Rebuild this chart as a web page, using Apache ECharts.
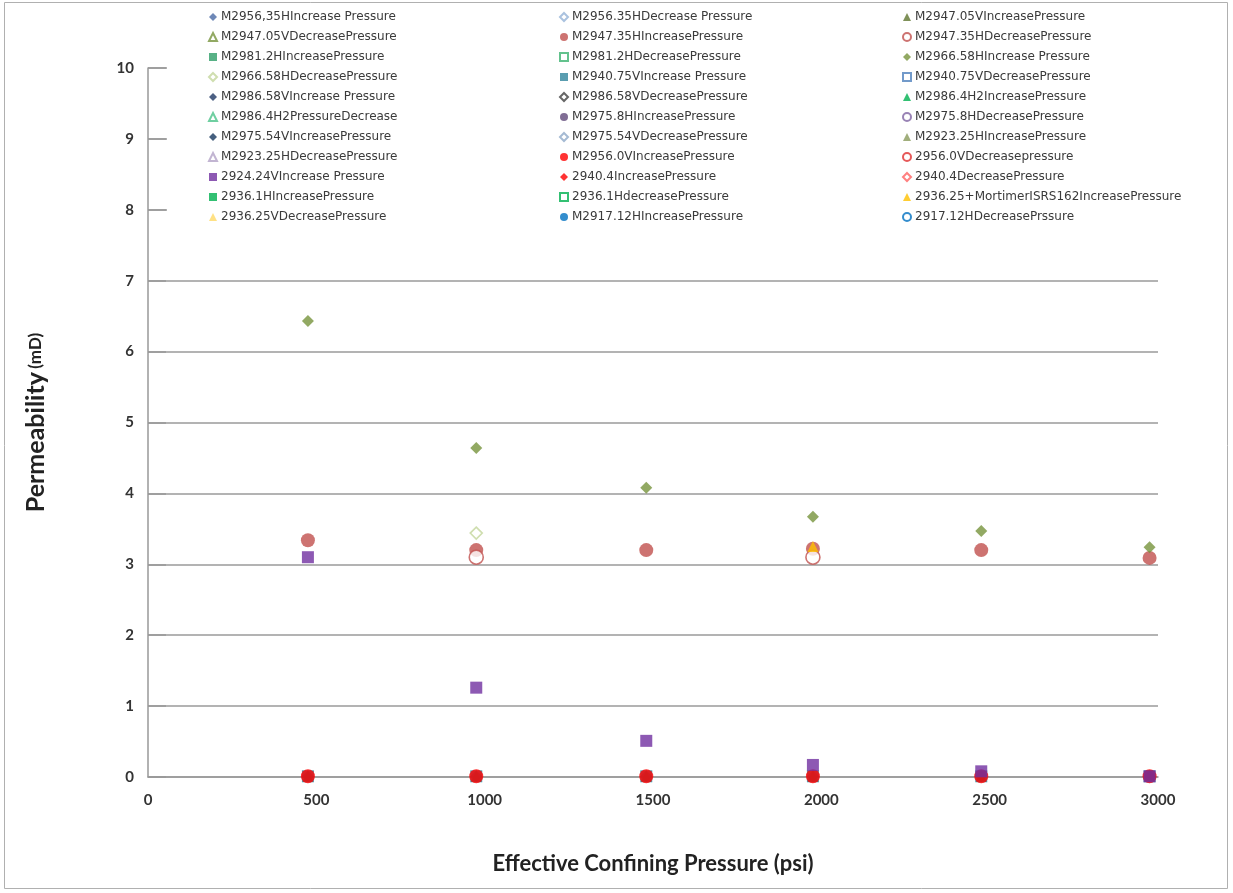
<!DOCTYPE html>
<html>
<head>
<meta charset="utf-8">
<script src="https://cdn.jsdelivr.net/npm/echarts@6/dist/echarts.min.js"></script>
<style>html,body{margin:0;padding:0;background:#fff}#c{width:1233px;height:893px}</style>
</head>
<body>
<div id="c"></div>
<script>
const pressures = [475, 975, 1480, 1975, 2475, 2975];

// Series names (legend order, row by row, 3 columns)
const seriesNames = [
  'M2956,35HIncrease Pressure', 'M2956.35HDecrease Pressure', 'M2947.05VIncreasePressure',
  'M2947.05VDecreasePressure', 'M2947.35HIncreasePressure', 'M2947.35HDecreasePressure',
  'M2981.2HIncreasePressure', 'M2981.2HDecreasePressure', 'M2966.58HIncrease Pressure',
  'M2966.58HDecreasePressure', 'M2940.75VIncrease Pressure', 'M2940.75VDecreasePressure',
  'M2986.58VIncrease Pressure', 'M2986.58VDecreasePressure', 'M2986.4H2IncreasePressure',
  'M2986.4H2PressureDecrease', 'M2975.8HIncreasePressure', 'M2975.8HDecreasePressure',
  'M2975.54VIncreasePressure', 'M2975.54VDecreasePressure', 'M2923.25HIncreasePressure',
  'M2923.25HDecreasePressure', 'M2956.0VIncreasePressure', '2956.0VDecreasepressure',
  '2924.24VIncrease Pressure', '2940.4IncreasePressure', '2940.4DecreasePressure',
  '2936.1HIncreasePressure', '2936.1HdecreasePressure', '2936.25+MortimerISRS162IncreasePressure',
  '2936.25VDecreasePressure', 'M2917.12HIncreasePressure', '2917.12HDecreasePrssure'
];

// Permeability values (mD) per series at each pressure; null = no visible point
const v_M2956_35H_inc   = [0.01, 0.01, 0.01, 0.01, 0.01, 0.01];
const v_M2947_05V_inc   = [0.01, 0.01, 0.01, 0.01, 0.01, 0.01];
const v_M2947_35H_inc   = [3.34, 3.20, 3.20, 3.22, 3.20, 3.09];
const v_M2947_35H_dec   = [null, 3.10, null, 3.10, null, null];
const v_M2966_58H_inc   = [6.43, 4.64, 4.08, 3.67, 3.47, 3.24];
const v_M2966_58H_dec   = [null, 3.44, null, null, null, null];
const v_M2940_75V_inc   = [0.01, 0.01, 0.01, 0.01, 0.01, 0.01];
const v_M2956_0V_inc    = [0.01, 0.01, 0.01, 0.01, 0.01, 0.01];
const v_2924_24V_inc    = [3.10, 1.26, 0.51, 0.17, 0.08, 0.01];
const v_2936_25M_inc    = [null, null, null, 3.25, null, null];

const seriesValues = {
  'M2956,35HIncrease Pressure': v_M2956_35H_inc,
  'M2947.05VIncreasePressure': v_M2947_05V_inc,
  'M2947.35HIncreasePressure': v_M2947_35H_inc,
  'M2947.35HDecreasePressure': v_M2947_35H_dec,
  'M2966.58HIncrease Pressure': v_M2966_58H_inc,
  'M2966.58HDecreasePressure': v_M2966_58H_dec,
  'M2940.75VIncrease Pressure': v_M2940_75V_inc,
  'M2956.0VIncreasePressure': v_M2956_0V_inc,
  '2924.24VIncrease Pressure': v_2924_24V_inc,
  '2936.25+MortimerISRS162IncreasePressure': v_2936_25M_inc
};

// Marker styles: [symbol, color, hollow]
const styles = [
  ['diamond', '#4a6aa5', false], ['diamond', '#95b3d7', true], ['triangle', '#5f7530', false],
  ['triangle', '#77933c', true], ['circle', '#c0504d', false], ['circle', '#c0504d', true],
  ['rect', '#2e9e68', false], ['rect', '#3cb371', true], ['diamond', '#77933c', false],
  ['diamond', '#c3d69b', true], ['rect', '#31859c', false], ['rect', '#4f81bd', true],
  ['diamond', '#1f3864', false], ['diamond', '#404040', true], ['triangle', '#00b050', false],
  ['triangle', '#4bc38a', true], ['circle', '#604a7b', false], ['circle', '#8064a2', true],
  ['diamond', '#17375e', false], ['diamond', '#8ea9c8', true], ['triangle', '#8a9a5b', false],
  ['triangle', '#b3a2c7', true], ['circle', '#ff0000', false], ['circle', '#e03030', true],
  ['rect', '#7030a0', false], ['diamond', '#ff0000', false], ['diamond', '#ff6060', true],
  ['rect', '#00b050', false], ['rect', '#00b050', true], ['triangle', '#ffc000', false],
  ['triangle', '#ffd966', false], ['circle', '#0070c0', false], ['circle', '#0070c0', true]
];

const sizes = {diamond: 12, circle: 14, rect: 12, triangle: 11};

const series = seriesNames.map((name, i) => {
  const [sym, col, hollow] = styles[i];
  const vals = seriesValues[name] || [];
  const data = [];
  vals.forEach((v, k) => { if (v !== null && v !== undefined) data.push([pressures[k], v]); });
  return {
    name: name, type: 'scatter', symbol: sym, symbolSize: sizes[sym],
    itemStyle: hollow ? {color: '#fff', borderColor: col, borderWidth: 1.6}
                      : {color: col, borderWidth: 0},
    data: data, z: 3
  };
});

const colNames = [[], [], []];
seriesNames.forEach((n, i) => colNames[i % 3].push(n));
const legendLefts = [208, 559, 902];
const legends = colNames.map((names, c) => ({
  data: names, orient: 'vertical', left: legendLefts[c], top: 11,
  padding: 0, itemWidth: 8, itemHeight: 8, itemGap: 8,
  selectedMode: false, z: 10,
  textStyle: {fontFamily: 'DejaVu Sans', fontSize: 12, lineHeight: 12, color: '#3a3a3a', padding: [0, 0, 0, -1]}
}));

const chart = echarts.init(document.getElementById('c'), null, {renderer: 'canvas'});
chart.setOption({
  backgroundColor: '#fff',
  animation: false,
  legend: legends,
  grid: {left: 148, right: 75, top: 68, bottom: 116},
  graphic: [
    {type: 'rect', shape: {x: 4.5, y: 2.5, width: 1223, height: 886},
     style: {fill: null, stroke: '#b0b0b0', lineWidth: 1}, z: 0},
    {type: 'rect', shape: {x: 167, y: 5, width: 1018, height: 223},
     style: {fill: '#fff'}, z: 5}
  ],
  xAxis: {
    type: 'value', min: 0, max: 3000, interval: 500,
    name: 'Effective Confining Pressure (psi)', nameLocation: 'middle', nameGap: 76,
    nameTextStyle: {fontFamily: 'Lato', fontWeight: 'bold', fontSize: 22, color: '#222'},
    axisLine: {lineStyle: {color: '#999', width: 1.5}},
    axisTick: {show: false},
    splitLine: {show: false},
    axisLabel: {fontFamily: 'Lato', fontWeight: 'bold', fontSize: 15, color: '#333', margin: 16,
                formatter: v => String(v)}
  },
  yAxis: {
    type: 'value', min: 0, max: 10, interval: 1,
    name: '{a|Permeability} {b|(mD)}', nameLocation: 'middle', nameGap: 100,
    nameTextStyle: {rich: {
      a: {fontFamily: 'Lato', fontWeight: 'bold', fontSize: 25, color: '#222'},
      b: {fontFamily: 'Lato', fontWeight: 'bold', fontSize: 17, color: '#222'}
    }},
    axisLine: {show: true, lineStyle: {color: '#999', width: 1.5}},
    axisTick: {show: true, inside: true, length: 18, lineStyle: {color: '#999', width: 1.5}},
    splitLine: {show: true, lineStyle: {color: '#9a9a9a', width: 1.5}},
    axisLabel: {fontFamily: 'Lato', fontWeight: 'bold', fontSize: 15, color: '#333', margin: 14}
  },
  series: series
});
</script>
</body>
</html>
